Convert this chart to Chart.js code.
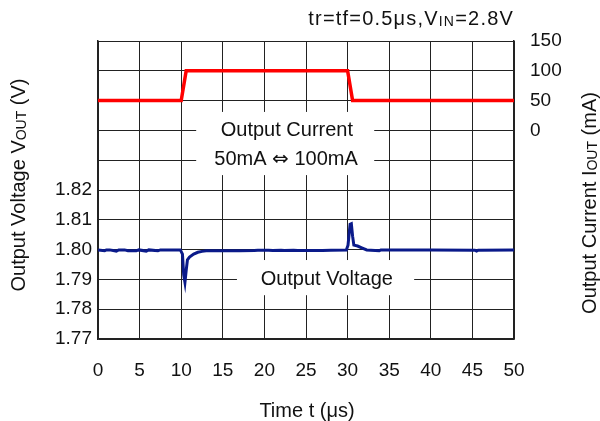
<!DOCTYPE html>
<html>
<head>
<meta charset="utf-8">
<script src="https://cdn.jsdelivr.net/npm/chart.js@4.4.1/dist/chart.umd.min.js"></script>
<style>
html, body { margin: 0; padding: 0; background: #fff; }
</style>
</head>
<body>
<canvas id="c" width="600" height="421"></canvas>
<script>
// load current step (mA)
const currentT = [0, 10.0, 10.6, 30.0, 30.6, 50];
const currentA = [50, 50, 100, 100, 50, 50];

// output voltage trace (V)
const voltT = [0, 0.8, 1.0, 1.4, 2.2, 2.5, 3.2, 3.6, 4.6, 4.9, 5.8, 6.1, 7.2, 7.5, 8.3, 9.0, 9.9,
  10.15, 10.3, 10.45, 10.6, 10.75, 11.0, 11.5, 12.0, 12.5, 13.0, 14.0, 17.0,
  18.8, 19.2, 20.5, 21.0, 22.0, 22.4, 23.5, 24.0, 25.0, 27.0, 28.0, 29.85,
  30.05, 30.3, 30.45, 30.6, 30.75, 31.2, 31.7, 32.3, 33.8, 34.0, 40.0, 45.3, 45.5, 45.7, 50];
const voltV = [1.7999, 1.7996, 1.7999, 1.7999, 1.7995, 1.7999, 1.7999, 1.7996, 1.7996, 1.7999, 1.7995, 1.7999, 1.7996, 1.7999, 1.7999, 1.7999, 1.7999,
  1.7985, 1.7915, 1.7890, 1.7930, 1.7966, 1.7975, 1.7985, 1.7991, 1.7994, 1.7996, 1.7996, 1.7996,
  1.7997, 1.7998, 1.7998, 1.7997, 1.7998, 1.7997, 1.7998, 1.7997, 1.7997, 1.7997, 1.7998, 1.7999,
  1.8015, 1.8085, 1.8087, 1.8045, 1.8015, 1.8012, 1.8006, 1.7999, 1.7996, 1.7999, 1.7999, 1.7998, 1.7995, 1.7998, 1.7999];

// axis ranges and labelled ticks
const xTicks = [0, 5, 10, 15, 20, 25, 30, 35, 40, 45, 50];
const vTickLabels = [1.77, 1.78, 1.79, 1.80, 1.81, 1.82];
const iTickLabels = [0, 50, 100, 150];

const FONT = "'Liberation Sans', Arial, sans-serif";

function pts(xs, ys) { return xs.map((x, i) => ({ x: x, y: ys[i] })); }

function partFont(p, size) {
  if (p.sub) return Math.round(size * 0.68) + 'px ' + FONT;
  if (p.sym) return size + "px 'DejaVu Sans', sans-serif";
  return size + 'px ' + FONT;
}

// draw text with subscript parts, centred on (x, y)
function richText(ctx, parts, x, y, size, align) {
  let w = 0;
  parts.forEach(p => {
    ctx.font = partFont(p, size);
    p.w = ctx.measureText(p.t).width;
    w += p.w;
  });
  let cx = align === 'right' ? x - w : x - w / 2;
  ctx.textBaseline = 'alphabetic';
  ctx.textAlign = 'left';
  const base = y + size * 0.36;
  parts.forEach(p => {
    ctx.font = partFont(p, size);
    ctx.fillText(p.t, cx, base + (p.sub ? 1 : 0));
    cx += p.w;
  });
}

const decor = {
  id: 'decor',
  beforeDatasetsDraw(chart) {
    const ctx = chart.ctx, xs = chart.scales.x, ys = chart.scales.y;
    ctx.save();
    ctx.fillStyle = '#fff';
    // white panels behind the inside labels
    const boxes = [[11.8, 33.2, 1.8462, 1.8250], [16.7, 38.0, 1.7965, 1.7847]];
    boxes.forEach(b => {
      const x0 = xs.getPixelForValue(b[0]), x1 = xs.getPixelForValue(b[1]);
      const y0 = ys.getPixelForValue(b[2]), y1 = ys.getPixelForValue(b[3]);
      ctx.fillRect(x0, y0, x1 - x0, y1 - y0);
    });
    ctx.fillStyle = '#111';
    richText(ctx, [{ t: 'Output Current' }], xs.getPixelForValue(22.7), ys.getPixelForValue(1.8405), 20);
    richText(ctx, [{ t: '50mA ' }, { t: '\u21D4', sym: true }, { t: ' 100mA' }], xs.getPixelForValue(22.6), ys.getPixelForValue(1.8307), 20);
    richText(ctx, [{ t: 'Output Voltage' }], xs.getPixelForValue(27.5), ys.getPixelForValue(1.7905), 20);
    ctx.restore();
  },
  afterDraw(chart) {
    const ctx = chart.ctx, a = chart.chartArea;
    ctx.save();
    ctx.fillStyle = '#111';
    ctx.letterSpacing = '1.2px';
    richText(ctx, [{ t: 'tr=tf=0.5\u03BCs,V' }, { t: 'IN', sub: true }, { t: '=2.8V' }], a.right, 18, 20, 'right');
    ctx.letterSpacing = '0px';
    richText(ctx, [{ t: 'Time t (\u03BCs)' }], (a.left + a.right) / 2 + 1, 410, 20);
    ctx.translate(18, 185);
    ctx.rotate(-Math.PI / 2);
    richText(ctx, [{ t: 'Output Voltage V' }, { t: 'OUT', sub: true }, { t: ' (V)' }], 0, 0, 20);
    ctx.restore();
    ctx.save();
    ctx.fillStyle = '#111';
    ctx.translate(589, 203);
    ctx.rotate(-Math.PI / 2);
    richText(ctx, [{ t: 'Output Current I' }, { t: 'OUT', sub: true }, { t: ' (mA)' }], 0, 0, 20);
    ctx.restore();
  }
};

new Chart(document.getElementById('c'), {
  type: 'line',
  data: {
    datasets: [{
      label: 'Output Current',
      data: pts(currentT, currentA),
      yAxisID: 'y2',
      borderColor: '#ff0000',
      borderWidth: 3.5,
      pointRadius: 0,
      tension: 0
    }, {
      label: 'Output Voltage',
      data: pts(voltT, voltV),
      yAxisID: 'y',
      borderColor: '#0a1a8a',
      borderWidth: 3,
      pointRadius: 0,
      tension: 0
    }]
  },
  options: {
    responsive: false,
    animation: false,
    events: [],
    layout: { padding: { top: 41, bottom: 0, left: 0, right: 0 } },
    plugins: { legend: { display: false }, tooltip: { enabled: false } },
    scales: {
      x: {
        type: 'linear', min: 0, max: 50,
        afterFit: s => { s.height = 82; },
        afterBuildTicks: s => { s.ticks = xTicks.map(v => ({ value: v })); },
        grid: { color: '#222', lineWidth: 1, drawTicks: false },
        border: { color: '#222', width: 1.5 },
        ticks: { color: '#111', font: { family: FONT, size: 19 }, padding: 20, maxRotation: 0 }
      },
      y: {
        position: 'left', min: 1.77, max: 1.87,
        afterFit: s => { s.width = 98; },
        ticks: {
          stepSize: 0.01, color: '#111', font: { family: FONT, size: 19 }, padding: 6,
          callback: v => {
            const r = Math.round(v * 100) / 100;
            return vTickLabels.includes(r) ? r.toFixed(2) : '';
          }
        },
        grid: { color: '#222', lineWidth: 1, drawTicks: false },
        border: { color: '#222', width: 1.5 }
      },
      y2: {
        position: 'right', min: -350, max: 150,
        afterFit: s => { s.width = 86; },
        ticks: {
          stepSize: 50, color: '#111', font: { family: FONT, size: 19 }, padding: 16,
          callback: v => iTickLabels.includes(v) ? String(v) : ''
        },
        grid: { drawOnChartArea: false, drawTicks: false },
        border: { color: '#222', width: 1.5 }
      }
    }
  },
  plugins: [decor]
});
</script>
</body>
</html>
